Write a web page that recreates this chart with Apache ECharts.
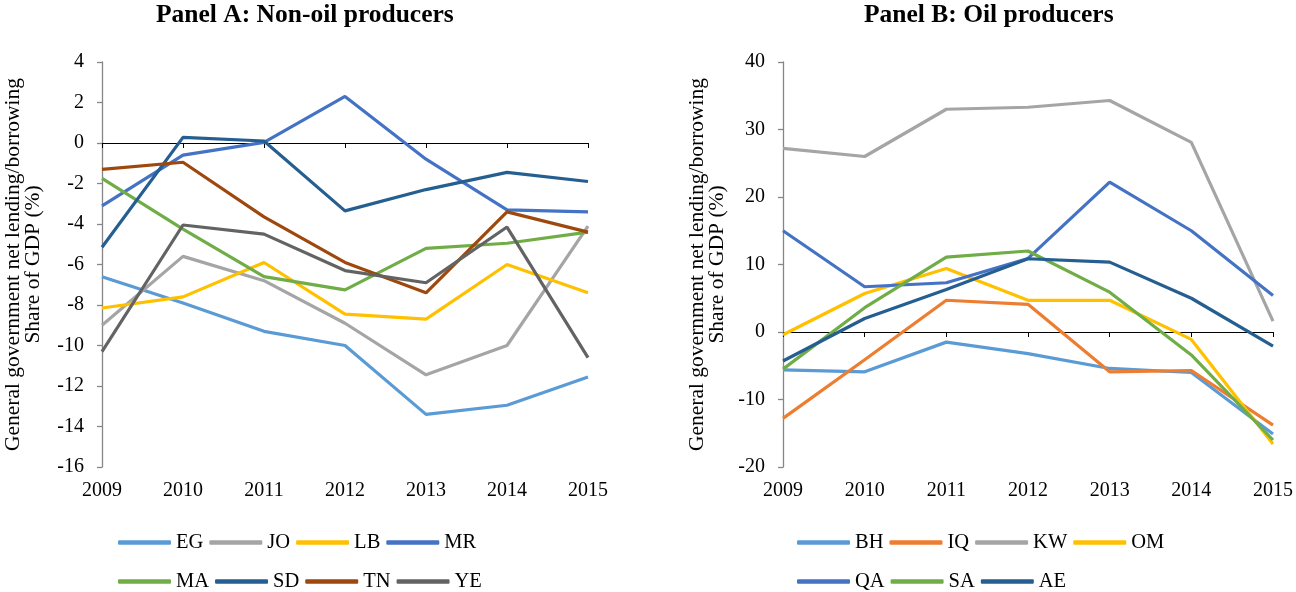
<!DOCTYPE html>
<html>
<head>
<meta charset="utf-8">
<script src="https://cdn.jsdelivr.net/npm/echarts@6/dist/echarts.min.js"></script>
<style>
  html, body { margin: 0; padding: 0; background: #fff; }
  #main { width: 1296px; height: 592px; }
</style>
</head>
<body>
<div id="main"></div>
<script>
// years on the category axis
var years = ['2009', '2010', '2011', '2012', '2013', '2014', '2015'];

// Panel A: non-oil producers (% of GDP)
var EG = [-6.6, -7.9, -9.3, -10.0, -13.4, -12.95, -11.55];
var JO = [-9.0, -5.6, -6.8, -8.9, -11.45, -10.0, -4.1];
var LB = [-8.15, -7.6, -5.9, -8.45, -8.7, -6.0, -7.4];
var MR = [-3.1, -0.6, 0.03, 2.3, -0.8, -3.3, -3.4];
var MA = [-1.75, -4.25, -6.6, -7.25, -5.2, -4.95, -4.4];
var SD = [-5.15, 0.28, 0.1, -3.35, -2.3, -1.45, -1.9];
var TN = [-1.3, -0.95, -3.65, -5.9, -7.4, -3.4, -4.4];
var YE = [-10.3, -4.05, -4.5, -6.3, -6.9, -4.15, -10.6];

// Panel B: oil producers (% of GDP)
var BH = [-5.6, -5.9, -1.5, -3.2, -5.4, -6.0, -15.1];
var IQ = [-12.8, -4.1, 4.7, 4.1, -5.9, -5.7, -13.8];
var KW = [27.2, 26.0, 33.0, 33.3, 34.3, 28.1, 1.6];
var OM = [-0.4, 5.7, 9.4, 4.7, 4.7, -1.1, -16.6];
var QA = [15.0, 6.7, 7.3, 10.9, 22.2, 15.0, 5.4];
var SA = [-5.5, 3.6, 11.1, 12.0, 5.9, -3.4, -16.0];
var AE = [-4.3, 2.0, 6.3, 10.85, 10.35, 5.0, -2.1];

var seriesA = [
  { name: 'EG', data: EG, color: '#5B9BD5' },
  { name: 'JO', data: JO, color: '#A5A5A5' },
  { name: 'LB', data: LB, color: '#FFC000' },
  { name: 'MR', data: MR, color: '#4472C4' },
  { name: 'MA', data: MA, color: '#70AD47' },
  { name: 'SD', data: SD, color: '#255E91' },
  { name: 'TN', data: TN, color: '#9E480E' },
  { name: 'YE', data: YE, color: '#636363' }
];
var seriesB = [
  { name: 'BH', data: BH, color: '#5B9BD5' },
  { name: 'IQ', data: IQ, color: '#ED7D31' },
  { name: 'KW', data: KW, color: '#A5A5A5' },
  { name: 'OM', data: OM, color: '#FFC000' },
  { name: 'QA', data: QA, color: '#4472C4' },
  { name: 'SA', data: SA, color: '#70AD47' },
  { name: 'AE', data: AE, color: '#255E91' }
];

var FONT = "'Liberation Serif', 'Times New Roman', serif";
var yName = 'General government net lending/borrowing\nShare of GDP (%)';

var chart = echarts.init(document.getElementById('main'));

function xAxesFor(grid) {
  return [
    { // axis line sitting on zero, ticks only
      gridIndex: grid, type: 'category', data: years, boundaryGap: false,
      axisLine: { onZero: true, lineStyle: { color: '#000', width: 1 } },
      axisTick: { show: true, length: 5, lineStyle: { color: '#000' } },
      axisLabel: { show: false },
      splitLine: { show: false }
    },
    { // labels at the bottom of the plot
      gridIndex: grid, type: 'category', data: years, boundaryGap: false,
      position: 'bottom',
      axisLine: { show: false, onZero: false },
      axisTick: { show: false },
      axisLabel: { color: '#000', fontFamily: FONT, fontSize: 20, margin: 14 },
      splitLine: { show: false }
    }
  ];
}

function yAxisFor(grid, min, max, step, gap) {
  return {
    gridIndex: grid, type: 'value', min: min, max: max, interval: step,
    name: yName, nameLocation: 'middle', nameRotate: 90, nameGap: gap,
    nameTextStyle: { color: '#000', fontFamily: FONT, fontSize: 21.5, lineHeight: 20 },
    axisLine: { show: true, lineStyle: { color: '#868686', width: 1.3 } },
    axisTick: { show: true, length: 5, lineStyle: { color: '#868686', width: 1.3 } },
    axisLabel: { color: '#000', fontFamily: FONT, fontSize: 20, margin: 18 },
    splitLine: { show: false }
  };
}

function toSeries(list, grid) {
  return list.map(function (s) {
    return {
      name: s.name, type: 'line', data: s.data,
      xAxisIndex: grid * 2, yAxisIndex: grid,
      showSymbol: false, symbol: 'none', smooth: false,
      lineStyle: { color: s.color, width: 3.2 },
      itemStyle: { color: s.color },
      emphasis: { disabled: true },
      z: 3
    };
  });
}

function legendRow(names, left, top) {
  return {
    data: names, left: left, top: top, orient: 'horizontal',
    icon: 'roundRect', itemWidth: 53, itemHeight: 4.5, itemGap: 6,
    textStyle: { color: '#000', fontFamily: FONT, fontSize: 20.5, width: 35, padding: [0, 0, 0, 0] },
    selectedMode: false
  };
}

chart.setOption({
  animation: false,
  backgroundColor: '#fff',
  graphic: [
    { type: 'text', left: 156, top: 2, style: { text: 'Panel A: Non-oil producers', font: 'bold 25.5px ' + FONT, fill: '#000' } },
    { type: 'text', left: 864, top: 2, style: { text: 'Panel B: Oil producers', font: 'bold 25.5px ' + FONT, fill: '#000' } }
  ],
  grid: [
    { left: 102, top: 62, width: 486, height: 405 },
    { left: 783, top: 62, width: 490, height: 405 }
  ],
  xAxis: xAxesFor(0).concat(xAxesFor(1)),
  yAxis: [
    yAxisFor(0, -16, 4, 2, 59),
    yAxisFor(1, -20, 40, 10, 56)
  ],
  legend: [
    legendRow(['EG', 'JO', 'LB', 'MR'], 113, 527),
    legendRow(['MA', 'SD', 'TN', 'YE'], 113, 566),
    legendRow(['BH', 'IQ', 'KW', 'OM'], 792, 527),
    legendRow(['QA', 'SA', 'AE'], 792, 566)
  ],
  series: toSeries(seriesA, 0).concat(toSeries(seriesB, 1))
});
</script>
</body>
</html>
